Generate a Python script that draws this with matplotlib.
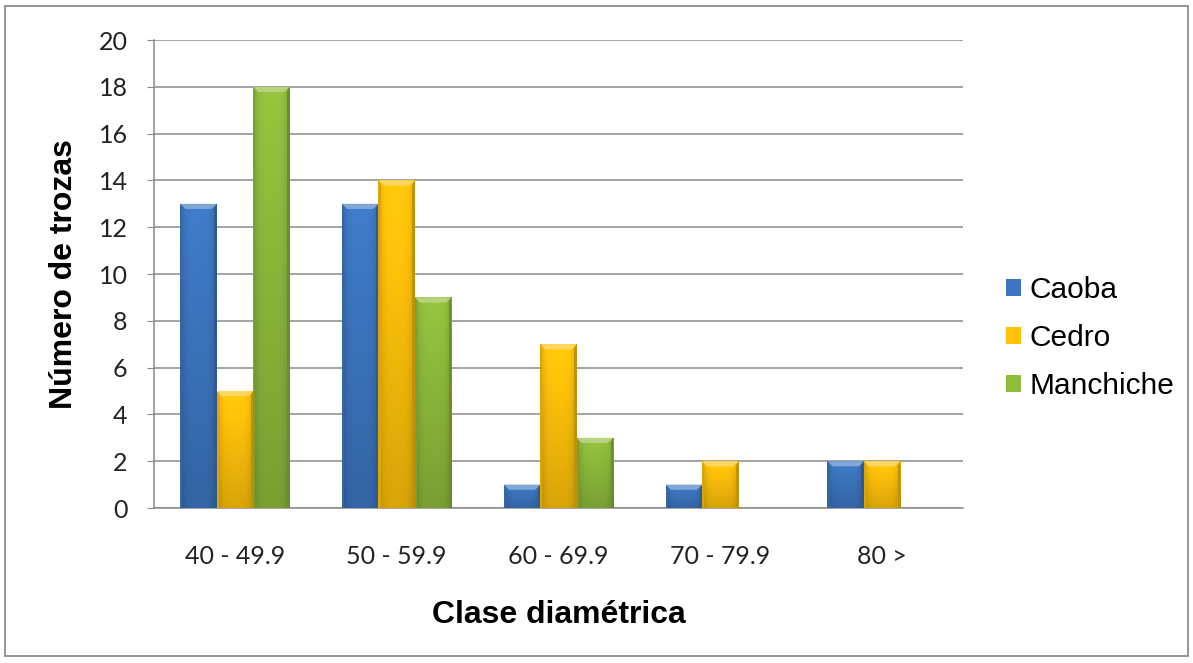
import numpy as np
import matplotlib
matplotlib.use("Agg")
import matplotlib.pyplot as plt
from matplotlib.patches import Rectangle, Polygon
from matplotlib.colors import to_rgb


categories = ["40 - 49.9", "50 - 59.9", "60 - 69.9", "70 - 79.9", "80 >"]
species = ["Caoba", "Cedro", "Manchiche"]
caoba = [13, 13, 1, 1, 2]
cedro = [5, 14, 7, 2, 2]
manchiche = [18, 9, 3, 0, 0]
colors = ["#3d77c2", "#ffc20a", "#8fbc3c"]

BAR_W = 0.225
TICK_FONT = "Lato"
LABEL_FONT = "Liberation Sans"


def shade(color, factor):
    """Scale an rgb colour towards black (<1) or white (>1)."""
    r = np.array(to_rgb(color))
    if factor < 1:
        return tuple(r * factor)
    return tuple(r + (1 - r) * (factor - 1))


def bevel_bar(ax, bar, color):
    """Paint a bevelled gradient face over a plain bar patch."""
    x0, y0 = bar.get_x(), bar.get_y()
    w, h = bar.get_width(), bar.get_height()
    if h <= 0:
        return
    base = np.array(to_rgb(color))
    # horizontal: darker at the edges, vertical: darker towards the base
    hx = np.linspace(-1, 1, 40)
    hfac = 1.0 - 0.18 * hx ** 4
    vy = np.linspace(0, 1, 60)[:, None]
    vfac = 0.85 + 0.2 * vy
    img = np.clip(base[None, None, :] * (hfac[None, :, None] * vfac[:, :, None]), 0, 1)
    im = ax.imshow(img, extent=(x0, x0 + w, y0, y0 + h), origin="lower",
                   aspect="auto", interpolation="bilinear", zorder=3)
    im.set_clip_path(bar)

    bx = w * 0.14
    by = min(0.22, h * 0.3)
    top = y0 + h
    # light top facet
    ax.add_patch(Polygon([(x0, top), (x0 + w, top), (x0 + w - bx, top - by),
                          (x0 + bx, top - by)], closed=True,
                         facecolor=shade(color, 1.35), edgecolor="none", zorder=4))
    # dark side facets
    ax.add_patch(Polygon([(x0 + w, top), (x0 + w, y0), (x0 + w - bx * 0.5, y0),
                          (x0 + w - bx * 0.5, top - by)], closed=True,
                         facecolor=shade(color, 0.75), edgecolor="none", zorder=4))
    ax.add_patch(Polygon([(x0, top), (x0, y0), (x0 + bx * 0.4, y0),
                          (x0 + bx * 0.4, top - by)], closed=True,
                         facecolor=shade(color, 0.85), edgecolor="none", zorder=4))


fig = plt.figure(figsize=(11.93, 6.63), dpi=100)
ax = fig.add_axes([154 / 1193, 155 / 663, 809 / 1193, 468 / 663])

# thin grey frame round the whole chart
fig.add_artist(Rectangle((5 / 1193, 7 / 663), 1183 / 1193, 650 / 663,
                         transform=fig.transFigure, fill=False,
                         edgecolor="#8c8c8c", linewidth=1.3))

x = np.arange(len(categories))
series = [caoba, cedro, manchiche]
handles = []
for i, (vals, col, name) in enumerate(zip(series, colors, species)):
    bars = ax.bar(x + (i - 1) * BAR_W, vals, BAR_W, color=col,
                  edgecolor="none", zorder=2, label=name)
    for b in bars:
        bevel_bar(ax, b, col)
    handles.append(bars)

ax.set_xlim(-0.5, len(categories) - 0.5)
ax.set_ylim(0, 20)
ax.set_yticks(np.arange(0, 21, 2))
ax.set_xticks(x)
ax.set_xticklabels(categories)
ax.yaxis.grid(True, color="#8a8a8a", linewidth=1.1, zorder=0)
ax.set_axisbelow(True)

for side in ["top", "right"]:
    ax.spines[side].set_visible(False)
for side in ["left", "bottom"]:
    ax.spines[side].set_color("#8a8a8a")
    ax.spines[side].set_linewidth(1.1)

ax.tick_params(axis="y", length=5, color="#8a8a8a", pad=14, labelsize=18)
ax.tick_params(axis="x", length=0, pad=27, labelsize=18)
for lab in ax.get_xticklabels() + ax.get_yticklabels():
    lab.set_fontfamily(TICK_FONT)
    lab.set_color("#222222")

ax.set_xlabel("Clase diamétrica", fontfamily=LABEL_FONT, fontweight="bold",
              fontsize=23, labelpad=23)
ax.set_ylabel("Número de trozas", fontfamily=LABEL_FONT, fontweight="bold",
              fontsize=23, labelpad=14)

leg = fig.legend(handles, species, loc="center left",
                 bbox_to_anchor=(1006 / 1193, 1 - 338 / 663), frameon=False,
                 prop={"family": LABEL_FONT, "size": 21.5},
                 handlelength=0.5, handleheight=0.5, handletextpad=0.3,
                 labelspacing=0.68, borderpad=0, borderaxespad=0)

fig.savefig("out.png", dpi=100, facecolor="white")
